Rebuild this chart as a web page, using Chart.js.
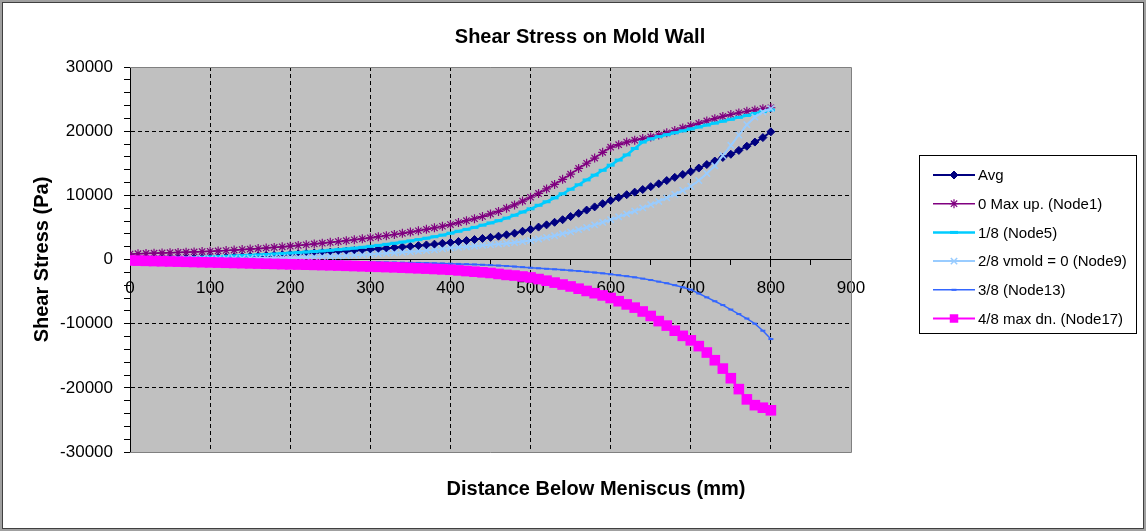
<!DOCTYPE html>
<html><head><meta charset="utf-8">
<script src="https://cdn.jsdelivr.net/npm/chart.js@4.4.1/dist/chart.umd.min.js"></script>
<style>html,body{margin:0;padding:0;background:#fff;}canvas{display:block;}</style>
</head><body>
<canvas id="c" width="1146" height="531"></canvas>
<script>
const chartTitle = 'Shear Stress on Mold Wall';
const xTitle = 'Distance Below Meniscus (mm)';
const yTitle = 'Shear Stress (Pa)';
const seriesNames = ['Avg', '0 Max up. (Node1)', '1/8 (Node5)', '2/8 vmold = 0 (Node9)', '3/8 (Node13)', '4/8 max dn. (Node17)'];
const xTickLabels = [0, 100, 200, 300, 400, 500, 600, 700, 800, 900];
const yTickLabels = [-30000, -20000, -10000, 0, 10000, 20000, 30000];

const distance = [0,10,20,30,40,50,60,70,80,90,100,110,120,130,140,150,160,170,180,190,200,210,220,230,240,250,260,270,280,290,300,310,320,330,340,350,360,370,380,390,400,410,420,430,440,450,460,470,480,490,500,510,520,530,540,550,560,570,580,590,600,610,620,630,640,650,660,670,680,690,700,710,720,730,740,750,760,770,780,790,800];

const avg = [0,30,60,90,120,150,180,210,240,270,
 300,340,380,420,460,500,560,620,680,740,
 800,870,940,1010,1080,1150,1230,1310,1390,1470,
 1560,1650,1750,1850,1950,2050,2160,2270,2390,2520,
 2650,2800,2950,3110,3280,3450,3630,3850,4100,4400,
 4700,5050,5400,5800,6200,6700,7200,7700,8200,8700,
 9200,9650,10100,10500,10900,11350,11800,12300,12800,13250,
 13700,14250,14800,15350,15900,16400,17000,17650,18300,19000,
 19900];

const maxUpNode1 = [850,900,940,980,1020,1060,1100,1140,1180,1230,
 1280,1340,1400,1470,1540,1620,1700,1790,1880,1980,
 2080,2190,2300,2420,2540,2670,2800,2940,3080,3230,
 3380,3550,3720,3900,4080,4270,4480,4700,4930,5180,
 5450,5750,6050,6350,6700,7100,7500,8000,8500,9100,
 9700,10300,11000,11700,12500,13300,14200,15000,15800,16700,
 17500,17900,18300,18600,18850,19100,19400,19750,20100,20500,
 20850,21200,21600,21950,22300,22600,22850,23100,23300,23500,
 23650];

const node5 = [0,40,80,120,160,200,240,280,320,360,
 400,450,500,550,600,660,720,780,850,920,
 1000,1080,1160,1250,1340,1440,1540,1650,1770,1900,
 2050,2200,2360,2530,2710,2900,3100,3320,3550,3800,
 4100,4400,4700,5000,5350,5700,6050,6450,6900,7400,
 7900,8450,9000,9600,10250,10950,11650,12400,13150,13900,
 14700,15500,16300,17300,18300,18800,19150,19450,19750,20050,
 20350,20650,20950,21250,21550,21850,22150,22450,22750,23050,
 23300];

const node9 = [0,15,25,35,45,60,70,85,95,110,
 120,135,150,165,180,200,220,240,260,280,
 300,340,380,420,460,500,550,600,660,720,
 800,880,960,1040,1120,1200,1300,1400,1500,1650,
 1800,1900,2000,2100,2200,2300,2400,2500,2650,2800,
 2950,3200,3450,3700,4000,4300,4650,5000,5400,5800,
 6200,6650,7100,7550,8050,8550,9050,9600,10150,10750,
 11400,12300,13400,14600,16200,17800,19400,21000,22200,23000,
 23500];

const node13 = [0,-20,-30,-40,-50,-60,-70,-80,-90,-100,
 -110,-120,-130,-140,-150,-160,-175,-190,-205,-220,
 -235,-250,-265,-280,-295,-310,-330,-350,-370,-390,
 -410,-430,-450,-470,-490,-510,-535,-560,-590,-620,
 -650,-690,-730,-770,-820,-880,-950,-1020,-1100,-1190,
 -1280,-1370,-1450,-1530,-1610,-1700,-1800,-1910,-2030,-2160,
 -2300,-2450,-2600,-2780,-2980,-3200,-3450,-3700,-4000,-4330,
 -4700,-5300,-5900,-6500,-7100,-7800,-8500,-9200,-10000,-11100,
 -12400];

const maxDnNode17 = [-150,-180,-210,-240,-270,-300,-330,-360,-390,-420,
 -450,-480,-510,-540,-570,-600,-630,-660,-690,-720,
 -750,-780,-810,-840,-870,-900,-940,-980,-1020,-1060,
 -1100,-1140,-1180,-1220,-1270,-1320,-1370,-1420,-1480,-1540,
 -1600,-1700,-1800,-1900,-2000,-2100,-2250,-2400,-2500,-2650,
 -2800,-3050,-3300,-3600,-3900,-4200,-4550,-4900,-5250,-5600,
 -6000,-6500,-7000,-7500,-8100,-8800,-9600,-10300,-11100,-11900,
 -12600,-13500,-14500,-15700,-17000,-18500,-20200,-21800,-22700,-23100,
 -23500];

const FONT = "'Liberation Sans', Arial, sans-serif";
Chart.defaults.font.family = FONT;
Chart.defaults.color = '#000';

const pts = arr => distance.map((d, i) => ({x: d, y: arr[i]}));

const datasets = [
 {label: seriesNames[0], data: pts(avg), borderColor: '#000080', backgroundColor: '#000080', borderWidth: 2, pointStyle: 'rectRot', pointRadius: 4, pointBorderWidth: 1, order: 6},
 {label: seriesNames[1], data: pts(maxUpNode1), borderColor: '#800080', backgroundColor: '#800080', borderWidth: 1.5, pointStyle: 'star', pointRadius: 4.5, pointBorderWidth: 1.2, order: 5},
 {label: seriesNames[2], data: pts(node5), borderColor: '#00CCFF', backgroundColor: '#00CCFF', borderWidth: 2.5, pointStyle: 'line', pointRadius: 4, pointBorderWidth: 3, order: 4},
 {label: seriesNames[3], data: pts(node9), borderColor: '#99CCFF', backgroundColor: '#99CCFF', borderWidth: 2, pointStyle: 'crossRot', pointRadius: 4.5, pointBorderWidth: 1.5, order: 3},
 {label: seriesNames[4], data: pts(node13), borderColor: '#3366FF', backgroundColor: '#3366FF', borderWidth: 1.5, pointStyle: 'line', pointRadius: 2.5, pointBorderWidth: 2, order: 2},
 {label: seriesNames[5], data: pts(maxDnNode17), borderColor: '#FF00FF', backgroundColor: '#FF00FF', borderWidth: 2, pointStyle: 'rect', pointRadius: 7.5, pointBorderWidth: 0, order: 1}
];
datasets.forEach(d => { d.tension = 0; d.fill = false; d.pointHoverRadius = d.pointRadius; });

const decorPlugin = {
 id: 'decor',
 beforeDraw(chart) {
  const ctx = chart.ctx, a = chart.chartArea;
  ctx.save();
  ctx.fillStyle = '#fff';
  ctx.fillRect(0, 0, chart.width, chart.height);
  ctx.fillStyle = '#C0C0C0';
  ctx.fillRect(a.left, a.top, a.right - a.left, a.bottom - a.top);
  ctx.restore();
 },
 beforeDatasetsDraw(chart) {
  const ctx = chart.ctx, a = chart.chartArea;
  ctx.save();
  ctx.strokeStyle = '#808080';
  ctx.lineWidth = 1;
  ctx.beginPath();
  ctx.moveTo(a.left, Math.round(a.top) + 0.5); ctx.lineTo(Math.round(a.right) + 0.5, Math.round(a.top) + 0.5);
  ctx.lineTo(Math.round(a.right) + 0.5, Math.round(a.bottom) + 0.5); ctx.lineTo(a.left, Math.round(a.bottom) + 0.5);
  ctx.stroke();
  ctx.restore();
 },
 afterDraw(chart) {
  const ctx = chart.ctx;
  ctx.save();
  // outer frame
  ctx.strokeStyle = '#A0A0A0'; ctx.lineWidth = 2;
  ctx.strokeRect(1, 1, chart.width - 2, chart.height - 2);
  ctx.strokeStyle = '#404040'; ctx.lineWidth = 1;
  ctx.strokeRect(2.5, 2.5, chart.width - 5, chart.height - 5);
  // titles
  ctx.fillStyle = '#000';
  ctx.textAlign = 'center'; ctx.textBaseline = 'middle';
  ctx.font = 'bold 20px ' + FONT;
  ctx.fillText(chartTitle, 580, 37);
  ctx.fillText(xTitle, 596, 489);
  // legend
  const lx = 919, ly = 155, lw = 217, lh = 178;
  ctx.fillStyle = '#fff';
  ctx.fillRect(lx, ly, lw, lh);
  ctx.strokeStyle = '#000'; ctx.lineWidth = 1;
  ctx.strokeRect(lx + 0.5, ly + 0.5, lw, lh);
  ctx.font = '15px ' + FONT;
  ctx.textAlign = 'left';
  chart.data.datasets.forEach((ds, i) => {
   const y = 175 + i * 28.7;
   ctx.strokeStyle = ds.borderColor; ctx.lineWidth = ds.borderWidth;
   ctx.beginPath(); ctx.moveTo(933, y); ctx.lineTo(975, y); ctx.stroke();
   ctx.fillStyle = ds.backgroundColor; ctx.strokeStyle = ds.borderColor;
   ctx.lineWidth = ds.pointBorderWidth;
   Chart.helpers.drawPoint(ctx, {pointStyle: ds.pointStyle, radius: Math.min(ds.pointRadius, 6), rotation: 0, borderWidth: ds.pointBorderWidth}, 954, y);
   ctx.fillStyle = '#000';
   ctx.fillText(ds.label, 978, y + 1);
  });
  ctx.restore();
 }
};

new Chart(document.getElementById('c'), {
 type: 'line',
 data: {datasets},
 plugins: [decorPlugin],
 options: {
  responsive: false,
  animation: false,
  devicePixelRatio: 1,
  layout: {padding: {left: 0, right: 295, top: 67, bottom: 79}},
  plugins: {legend: {display: false}, title: {display: false}, tooltip: {enabled: false}},
  scales: {
   x: {
    type: 'linear', position: {y: 0}, min: 0, max: 900,
    ticks: {stepSize: 50, autoSkip: false, maxRotation: 0, padding: 14, font: {size: 17}, color: '#000',
     callback: v => xTickLabels.includes(v) ? String(v) : ''},
    grid: {color: c => (c.tick && c.tick.value % 100 === 0 && c.tick.value > 0 && c.tick.value < 900) ? '#000' : 'rgba(0,0,0,0)',
     tickColor: '#000', tickLength: 5, lineWidth: 1},
    border: {display: true, color: '#000', width: 1, dash: [4, 3]}
   },
   y: {
    type: 'linear', position: 'left', min: -30000, max: 30000,
    ticks: {stepSize: 2000, autoSkip: false, padding: 11, font: {size: 17}, color: '#000',
     callback: v => yTickLabels.includes(v) ? String(v) : ''},
    grid: {color: c => (c.tick && c.tick.value % 10000 === 0 && Math.abs(c.tick.value) < 30000) ? '#000' : 'rgba(0,0,0,0)',
     tickColor: '#000', tickLength: 6, lineWidth: 1},
    border: {display: true, color: '#000', width: 1, dash: [4, 3]},
    title: {display: true, text: yTitle, font: {size: 20, weight: 'bold'}, color: '#000', padding: {top: 30, bottom: 0}},
    afterFit: s => { s.width = 130; }
   }
  }
 }
});
</script>
</body></html>
